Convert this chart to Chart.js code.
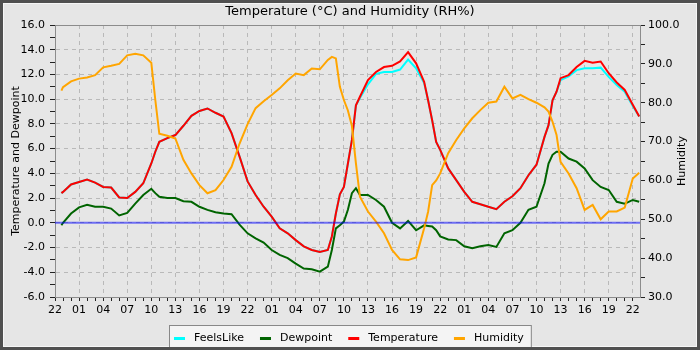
<!DOCTYPE html>
<html>
<head>
<meta charset="utf-8">
<script src="https://cdn.jsdelivr.net/npm/chart.js@4.4.0/dist/chart.umd.min.js"></script>
<style>
  html, body { margin: 0; padding: 0; background: #fff; }
  #frame {
    width: 700px; height: 350px; box-sizing: border-box;
    border: 3px solid #505050; background: #e6e6e6;
    box-shadow: inset 0 0 0 1px #f6f6f6;
  }
  #wx { display: block; }
</style>
</head>
<body>
<div id="frame"><canvas id="wx" width="694" height="344"></canvas></div>
<script>
// hours since 22:00 on the first day
const hours = [
  0.8, 1, 2, 3, 4, 5, 6, 7, 8, 9, 10, 11, 12, 12.5,
  13, 14, 15, 16, 17, 18, 19, 20, 21, 22, 23, 24,
  25, 26, 27, 28, 29, 30, 31, 32, 33, 34, 34.5, 35, 35.5, 36, 36.5, 37, 37.5,
  38, 39, 40, 41, 42, 43, 44, 45, 46, 46.5, 47, 47.5, 48,
  49, 50, 51, 52, 53, 54, 55, 56, 57, 58, 59, 60,
  61, 61.5, 62, 62.5, 63, 64, 65, 66, 67, 68, 69, 70, 71, 72, 72.8
];

const temperature = [
  2.4, 2.5, 3.1, 3.3, 3.5, 3.25, 2.9, 2.85, 2.05, 2.0, 2.5, 3.2, 4.8, 5.75,
  6.55, 6.85, 7.1, 7.85, 8.65, 9.05, 9.25, 8.9, 8.6, 7.25, 5.35, 3.35,
  2.25, 1.3, 0.5, -0.45, -0.85, -1.4, -1.9, -2.2, -2.35, -2.2, -1.1, 0.75, 2.3, 2.9, 4.8, 6.7, 9.5,
  10.2, 11.55, 12.2, 12.6, 12.7, 13.05, 13.8, 12.9, 11.4, 9.9, 8.3, 6.55, 5.9,
  4.4, 3.45, 2.5, 1.7, 1.5, 1.3, 1.1, 1.7, 2.15, 2.8, 3.85, 4.7,
  6.95, 7.9, 9.9, 10.6, 11.7, 11.95, 12.6, 13.1, 12.95, 13.05, 12.1, 11.35, 10.75, 9.55, 8.6
];

const feelsLike = [
  2.4, 2.5, 3.1, 3.3, 3.5, 3.25, 2.9, 2.85, 2.05, 2.0, 2.5, 3.2, 4.8, 5.75,
  6.55, 6.85, 7.1, 7.85, 8.65, 9.05, 9.25, 8.9, 8.6, 7.25, 5.35, 3.35,
  2.25, 1.3, 0.5, -0.45, -0.85, -1.4, -1.9, -2.2, -2.35, -2.2, -1.1, 0.75, 2.3, 2.9, 4.8, 6.7, 9.5,
  10.1, 11.2, 12.05, 12.2, 12.2, 12.4, 13.2, 12.5, 11.3, 9.9, 8.3, 6.55, 5.9,
  4.4, 3.45, 2.5, 1.7, 1.5, 1.3, 1.1, 1.7, 2.15, 2.8, 3.85, 4.7,
  6.95, 7.9, 9.9, 10.6, 11.55, 11.85, 12.35, 12.5, 12.5, 12.55, 11.8, 11.15, 10.6, 9.45, 8.6
];

const dewpoint = [
  -0.2, 0.0, 0.75, 1.25, 1.45, 1.3, 1.3, 1.15, 0.6, 0.8, 1.55, 2.25, 2.75, 2.4,
  2.1, 2.0, 2.0, 1.75, 1.7, 1.3, 1.05, 0.85, 0.75, 0.7, -0.15, -0.85,
  -1.25, -1.6, -2.2, -2.6, -2.85, -3.3, -3.7, -3.75, -3.95, -3.55, -2.2, -0.45, -0.2, 0.1, 1.05, 2.4, 2.8,
  2.25, 2.25, 1.85, 1.3, 0.0, -0.45, 0.15, -0.6, -0.2, -0.25, -0.3, -0.6, -1.1,
  -1.35, -1.4, -1.9, -2.05, -1.9, -1.8, -1.95, -0.85, -0.6, 0.0, 1.05, 1.3,
  3.2, 4.8, 5.5, 5.75, 5.75, 5.2, 4.95, 4.4, 3.45, 2.9, 2.65, 1.7, 1.55, 1.85, 1.7
];

const humidity = [
  83.1, 84.0, 85.5, 86.2, 86.5, 87.1, 89.1, 89.5, 90.0, 92.2, 92.6, 92.2, 90.3, 80.7,
  72.0, 71.5, 70.8, 65.3, 61.8, 58.8, 56.7, 57.5, 60.1, 63.5, 69.5, 74.5,
  78.6, 80.4, 82.0, 83.7, 85.8, 87.5, 87.1, 88.8, 88.6, 91.0, 91.8, 91.4, 84.1, 80.7, 78.0, 74.0, 64.4,
  55.8, 52.0, 49.4, 46.4, 42.1, 39.7, 39.5, 40.2, 47.7, 52.0, 58.8, 60.0, 61.8,
  67.0, 70.4, 73.4, 76.0, 78.1, 80.0, 80.3, 84.1, 81.1, 82.0, 80.9, 80.0,
  78.8, 77.7, 75.1, 71.7, 64.8, 61.8, 58.0, 52.4, 53.7, 50.0, 52.0, 52.0, 53.0, 60.5, 62.0
];

const startHour = 22;
const tempRange = [-6, 16];
const humRange = [30, 100];

function points(values) {
  return hours.map((h, i) => ({ x: h, y: values[i] }));
}

Chart.defaults.font.family = 'DejaVu Sans';
Chart.defaults.font.size = 11;
Chart.defaults.color = '#000';

// blue reference line at 0 degrees, drawn over the series
const zeroLine = {
  id: 'zeroLine',
  afterDatasetsDraw(chart) {
    const { ctx, chartArea, scales } = chart;
    const y = scales.y.getPixelForValue(0);
    ctx.save();
    ctx.strokeStyle = 'rgba(0,0,255,0.52)';
    ctx.lineWidth = 2;
    ctx.beginPath();
    ctx.moveTo(chartArea.left, y);
    ctx.lineTo(chartArea.right, y);
    ctx.stroke();
    ctx.restore();
  }
};

// box round the plot, right-hand axis title and boxed legend
const decorations = {
  id: 'decorations',
  beforeDatasetsDraw(chart) {
    const { ctx, chartArea: a } = chart;
    ctx.save();
    ctx.strokeStyle = '#8c8c8c';
    ctx.lineWidth = 1;
    ctx.strokeRect(a.left + 0.5, a.top + 0.5, a.right - a.left, a.bottom - a.top);
    ctx.restore();
  },
  afterDraw(chart) {
    const { ctx, chartArea: a } = chart;
    ctx.save();
    ctx.font = '11px "DejaVu Sans"';
    ctx.fillStyle = '#000';

    ctx.save();
    ctx.translate(679, (a.top + a.bottom) / 2);
    ctx.rotate(-Math.PI / 2);
    ctx.textAlign = 'center';
    ctx.textBaseline = 'middle';
    ctx.fillText('Humidity', 0, 0);
    ctx.restore();

    const sets = chart.data.datasets;
    const widths = sets.map(d => ctx.measureText(d.label).width);
    const total = 5 + widths.reduce((s, w) => s + w + 20, 0) + 16 * (sets.length - 1) + 7;
    const left = Math.round(chart.width / 2 - total / 2);
    const top = 322;
    ctx.fillStyle = '#f4f4f4';
    ctx.fillRect(left, top, total, 30);
    ctx.strokeStyle = '#888';
    ctx.strokeRect(left + 0.5, top + 0.5, total, 30);

    let x = left + 5;
    const cy = 335;
    ctx.textBaseline = 'middle';
    ctx.textAlign = 'left';
    sets.forEach((d, i) => {
      ctx.fillStyle = d.borderColor;
      ctx.fillRect(x, cy - 1, 11, 3);
      ctx.fillStyle = '#000';
      ctx.fillText(d.label, x + 20, cy);
      x += 20 + widths[i] + 16;
    });
    ctx.restore();
  }
};

const gridGray = '#b9b9b9';

new Chart(document.getElementById('wx'), {
  type: 'line',
  data: {
    datasets: [
      { label: 'FeelsLike', data: points(feelsLike), borderColor: '#00ffff', order: 4 },
      { label: 'Dewpoint', data: points(dewpoint), borderColor: '#006400', order: 3 },
      { label: 'Temperature', data: points(temperature), borderColor: '#ff0000', order: 2 },
      { label: 'Humidity', data: points(humidity), borderColor: '#ffa500', yAxisID: 'y1', order: 1 }
    ]
  },
  options: {
    responsive: false,
    animation: false,
    elements: {
      point: { radius: 0 },
      line: { borderWidth: 2, tension: 0 }
    },
    layout: { padding: { left: 0, right: 0, top: 0, bottom: 28 } },
    plugins: {
      legend: { display: false },
      tooltip: { enabled: false },
      title: {
        display: true,
        text: 'Temperature (°C) and Humidity (RH%)',
        font: { size: 13, weight: 'normal' },
        color: '#000',
        padding: { top: 1, bottom: 5.4 }
      }
    },
    scales: {
      x: {
        type: 'linear',
        min: 0,
        max: 72.9,
        afterFit: s => { s.height = 22; },
        border: { color: '#8c8c8c', dash: [4, 4] },
        grid: {
          color: c => c.tick && c.tick.value % 3 === 0 ? gridGray : 'rgba(0,0,0,0)',
          tickColor: '#222',
          tickLength: 4
        },
        ticks: {
          stepSize: 1,
          includeBounds: false,
          autoSkip: false,
          maxRotation: 0,
          padding: 3,
          callback: v => v % 3 === 0 ? String((startHour + v) % 24).padStart(2, '0') : ''
        }
      },
      y: {
        position: 'left',
        min: tempRange[0],
        max: tempRange[1],
        afterFit: s => { s.width = 52; },
        border: { color: '#8c8c8c', dash: [4, 4] },
        grid: {
          color: c => c.tick && c.tick.value % 2 === 0 ? gridGray : 'rgba(0,0,0,0)',
          tickColor: '#222',
          tickLength: 5
        },
        ticks: {
          stepSize: 1,
          autoSkip: false,
          padding: 5,
          callback: v => v % 2 === 0 ? v.toFixed(1) : ''
        },
        title: {
          display: true,
          text: 'Temperature and Dewpoint',
          color: '#000',
          padding: { top: 7, bottom: 0 }
        }
      },
      y1: {
        position: 'right',
        min: humRange[0],
        max: humRange[1],
        afterFit: s => { s.width = 57; },
        border: { color: '#8c8c8c' },
        grid: { drawOnChartArea: false, tickColor: '#222', tickLength: 5 },
        ticks: {
          stepSize: 5,
          autoSkip: false,
          padding: 3,
          callback: v => v % 10 === 0 ? v.toFixed(1) : ''
        }
      }
    }
  },
  plugins: [zeroLine, decorations]
});
</script>
</body>
</html>
